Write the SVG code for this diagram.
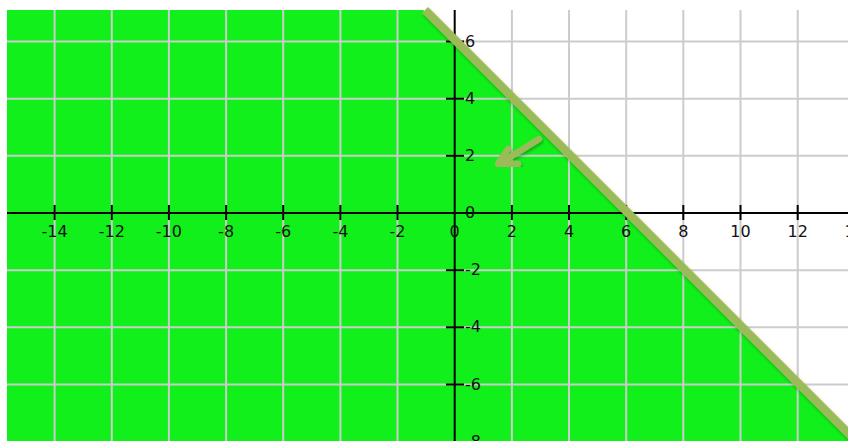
<svg xmlns="http://www.w3.org/2000/svg" width="848" height="441" viewBox="0 0 848 441">
  <style>
    .grid { stroke: #cccccc; stroke-width: 2; fill: none; }
    .axis { stroke: #000000; stroke-width: 2; fill: none; }
    .tick { stroke: #000000; stroke-width: 2; }
    .lbl { font-family: "DejaVu Sans", "Liberation Sans", sans-serif; font-size: 16px; fill: #111111; }
    .xl { text-anchor: middle; }
    .yl { text-anchor: start; }
    .bound { stroke: #9bbb59; stroke-width: 8.5; fill: none; stroke-linecap: butt; }
    .arrow { stroke: #9bbb59; stroke-width: 6.5; fill: none; stroke-linecap: round; stroke-linejoin: round; }
  </style>
  <defs>
    <clipPath id="plot">
      <rect x="7" y="10" width="841" height="431"/>
    </clipPath>
    <filter id="shadow" x="-10%" y="-10%" width="120%" height="120%">
      <feDropShadow dx="1" dy="2" stdDeviation="1.5" flood-color="#000000" flood-opacity="0.3"/>
    </filter>
  </defs>
  <rect x="0" y="0" width="848" height="441" fill="#ffffff"/>
  <g id="plot-area" clip-path="url(#plot)">
    <polygon id="feasible-region" points="7,10 423.2,10 848,434.8 848,441 7,441" fill="#11f01b"/>
    <g id="grid">
      <line class="grid" x1="54.6" y1="0" x2="54.6" y2="441"/>
      <line class="grid" x1="111.8" y1="0" x2="111.8" y2="441"/>
      <line class="grid" x1="168.9" y1="0" x2="168.9" y2="441"/>
      <line class="grid" x1="226.1" y1="0" x2="226.1" y2="441"/>
      <line class="grid" x1="283.2" y1="0" x2="283.2" y2="441"/>
      <line class="grid" x1="340.4" y1="0" x2="340.4" y2="441"/>
      <line class="grid" x1="397.5" y1="0" x2="397.5" y2="441"/>
      <line class="grid" x1="511.9" y1="0" x2="511.9" y2="441"/>
      <line class="grid" x1="569.0" y1="0" x2="569.0" y2="441"/>
      <line class="grid" x1="626.2" y1="0" x2="626.2" y2="441"/>
      <line class="grid" x1="683.3" y1="0" x2="683.3" y2="441"/>
      <line class="grid" x1="740.5" y1="0" x2="740.5" y2="441"/>
      <line class="grid" x1="797.7" y1="0" x2="797.7" y2="441"/>
      <line class="grid" x1="0" y1="41.5" x2="848" y2="41.5"/>
      <line class="grid" x1="0" y1="98.7" x2="848" y2="98.7"/>
      <line class="grid" x1="0" y1="155.8" x2="848" y2="155.8"/>
      <line class="grid" x1="0" y1="270.2" x2="848" y2="270.2"/>
      <line class="grid" x1="0" y1="327.3" x2="848" y2="327.3"/>
      <line class="grid" x1="0" y1="384.5" x2="848" y2="384.5"/>
    </g>
    <g id="axes">
      <line class="axis" x1="0" y1="213" x2="848" y2="213"/>
      <line class="axis" x1="454.7" y1="0" x2="454.7" y2="441"/>
    </g>
    <g id="ticks">
      <line class="tick" x1="54.6" y1="205" x2="54.6" y2="220"/>
      <line class="tick" x1="111.8" y1="205" x2="111.8" y2="220"/>
      <line class="tick" x1="168.9" y1="205" x2="168.9" y2="220"/>
      <line class="tick" x1="226.1" y1="205" x2="226.1" y2="220"/>
      <line class="tick" x1="283.2" y1="205" x2="283.2" y2="220"/>
      <line class="tick" x1="340.4" y1="205" x2="340.4" y2="220"/>
      <line class="tick" x1="397.5" y1="205" x2="397.5" y2="220"/>
      <line class="tick" x1="511.9" y1="205" x2="511.9" y2="220"/>
      <line class="tick" x1="569.0" y1="205" x2="569.0" y2="220"/>
      <line class="tick" x1="626.2" y1="205" x2="626.2" y2="220"/>
      <line class="tick" x1="683.3" y1="205" x2="683.3" y2="220"/>
      <line class="tick" x1="740.5" y1="205" x2="740.5" y2="220"/>
      <line class="tick" x1="797.7" y1="205" x2="797.7" y2="220"/>
      <line class="tick" x1="446" y1="41.5" x2="464" y2="41.5"/>
      <line class="tick" x1="446" y1="98.7" x2="464" y2="98.7"/>
      <line class="tick" x1="446" y1="155.8" x2="464" y2="155.8"/>
      <line class="tick" x1="446" y1="270.2" x2="464" y2="270.2"/>
      <line class="tick" x1="446" y1="327.3" x2="464" y2="327.3"/>
      <line class="tick" x1="446" y1="384.5" x2="464" y2="384.5"/>
    </g>
    <g id="x-labels">
      <text class="lbl xl" x="54.6" y="237">-14</text>
      <text class="lbl xl" x="111.8" y="237">-12</text>
      <text class="lbl xl" x="168.9" y="237">-10</text>
      <text class="lbl xl" x="226.1" y="237">-8</text>
      <text class="lbl xl" x="283.2" y="237">-6</text>
      <text class="lbl xl" x="340.4" y="237">-4</text>
      <text class="lbl xl" x="397.5" y="237">-2</text>
      <text class="lbl xl" x="454.7" y="237">0</text>
      <text class="lbl xl" x="511.9" y="237">2</text>
      <text class="lbl xl" x="569.0" y="237">4</text>
      <text class="lbl xl" x="626.2" y="237">6</text>
      <text class="lbl xl" x="683.3" y="237">8</text>
      <text class="lbl xl" x="740.5" y="237">10</text>
      <text class="lbl xl" x="797.7" y="237">12</text>
      <text class="lbl xl" x="854.8" y="237">14</text>
    </g>
    <g id="y-labels">
      <text class="lbl yl" x="465" y="46.5">6</text>
      <text class="lbl yl" x="465" y="103.7">4</text>
      <text class="lbl yl" x="465" y="160.8">2</text>
      <text class="lbl yl" x="465" y="218">0</text>
      <text class="lbl yl" x="465" y="275.2">-2</text>
      <text class="lbl yl" x="465" y="332.3">-4</text>
      <text class="lbl yl" x="465" y="389.5">-6</text>
      <text class="lbl yl" x="465" y="446.7">-8</text>
    </g>
  </g>
  <g id="boundary-line" filter="url(#shadow)">
    <line class="bound" x1="425" y1="10" x2="860" y2="445"/>
  </g>
  <g id="direction-arrow" filter="url(#shadow)">
    <line class="arrow" x1="539" y1="139" x2="499" y2="164"/>
    <polyline class="arrow" points="508,149 498,164 518,164"/>
  </g>
</svg>
